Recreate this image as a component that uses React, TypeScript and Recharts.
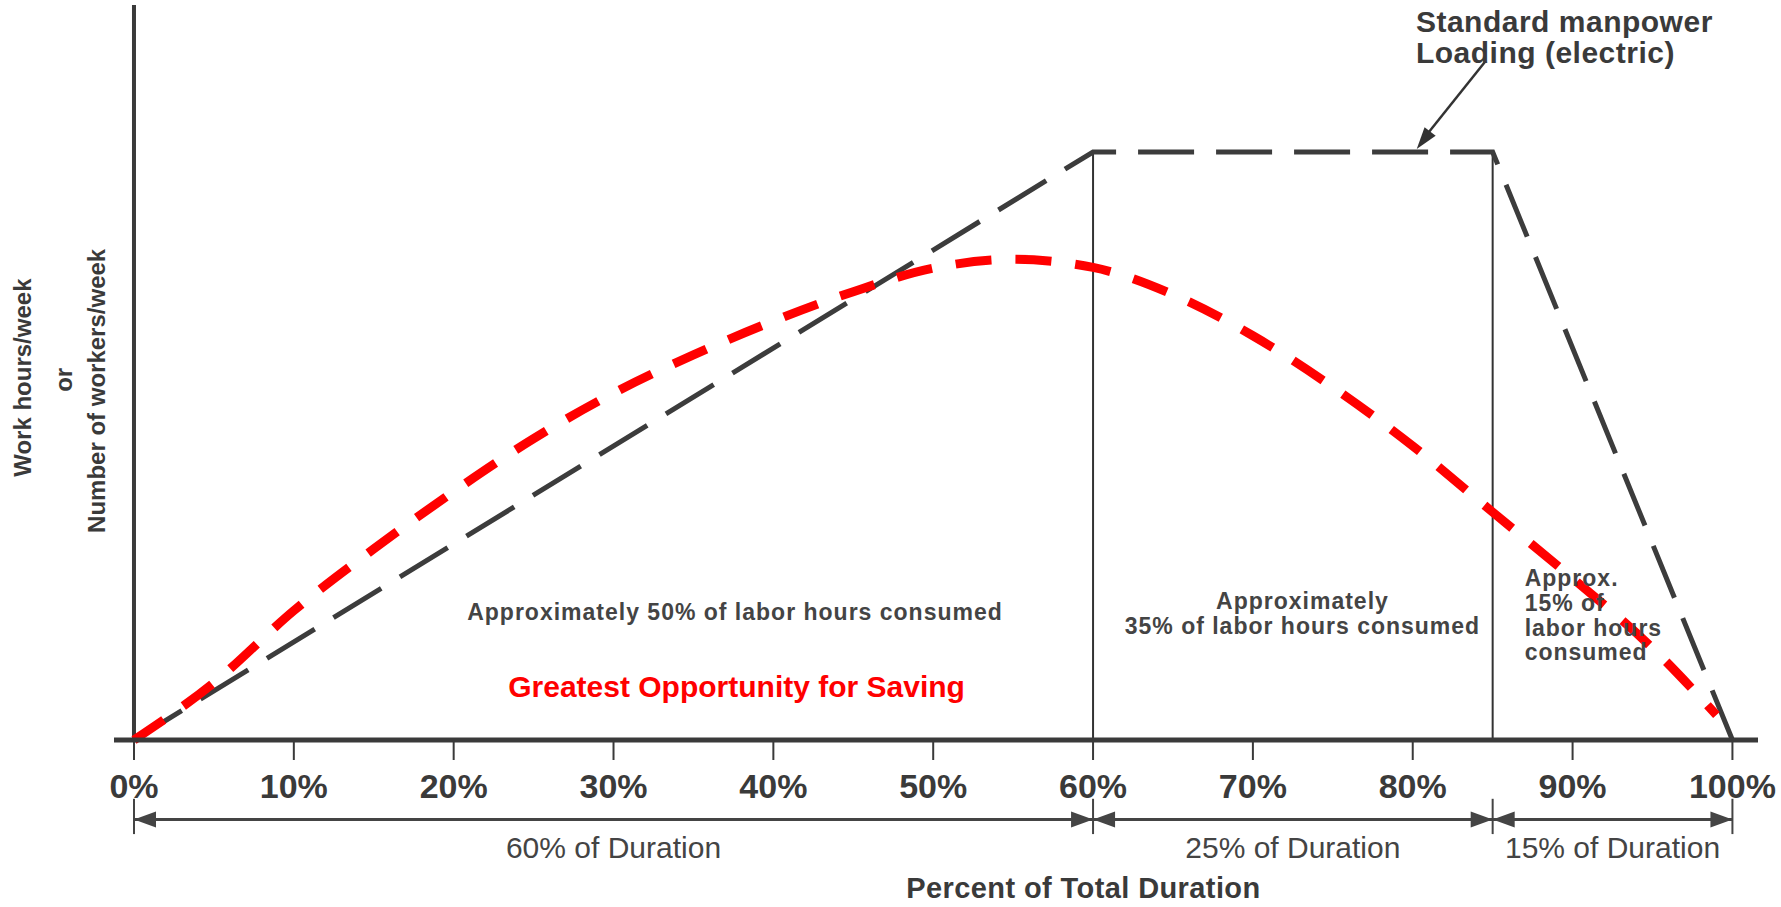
import React from "react";
import { LineChart, Line, XAxis, YAxis, ReferenceLine, ReferenceDot } from "recharts";

const percentTicks = [0, 10, 20, 30, 40, 50, 60, 70, 80, 90, 100];

// standard manpower loading (electric), black dashed
const standardPct = [0, 60, 85, 100];
const standardLoad = [0, 80, 80, 0];

// improved loading curve, red dashed
const savingPct = [0, 5, 10, 15, 20, 25, 30, 35, 40, 45, 50, 55, 60, 65, 70, 75, 80, 85, 90, 95, 99];
const savingLoad = [0, 7.8, 17.6, 26, 33.8, 41, 47.2, 52.4, 57, 61, 64.2, 65.4, 64.3, 60.6, 55, 48, 40, 31, 22, 12.5, 3.4];

const phaseBounds = [0, 60, 85, 100];
const phaseLabels = ["60% of Duration", "25% of Duration", "15% of Duration"];

const standardData = standardPct.map((x, i) => ({ x, v: standardLoad[i] }));
const savingData = savingPct.map((x, i) => ({ x, v: savingLoad[i] }));

const FONT = '"Liberation Sans", Arial, Helvetica, sans-serif';
const INK = "#3a3a3a";
const ARROW_Y = -10.8;

type Note = {
  x: number;
  y: number;
  text: string;
  size: number;
  bold?: boolean;
  color?: string;
  anchor?: "start" | "middle" | "end";
  spacing?: number;
  rotate?: boolean;
};

const notes: Note[] = [
  { x: 80.2, y: 97.7, text: "Standard manpower", size: 30, bold: true, anchor: "start", spacing: 0.5 },
  { x: 80.2, y: 93.6, text: "Loading (electric)", size: 30, bold: true, anchor: "start", spacing: 0.5 },
  { x: 37.6, y: 17.4, text: "Approximately 50% of labor hours consumed", size: 23, bold: true, spacing: 1, color: "#444" },
  { x: 37.7, y: 7.3, text: "Greatest Opportunity for Saving", size: 30, bold: true, color: "#ff0000" },
  { x: 73.1, y: 18.9, text: "Approximately", size: 23, bold: true, spacing: 1, color: "#444" },
  { x: 73.1, y: 15.5, text: "35% of labor hours consumed", size: 23, bold: true, spacing: 1, color: "#444" },
  { x: 87.0, y: 22.0, text: "Approx.", size: 23, bold: true, anchor: "start", spacing: 1, color: "#444" },
  { x: 87.0, y: 18.6, text: "15% of", size: 23, bold: true, anchor: "start", spacing: 1, color: "#444" },
  { x: 87.0, y: 15.2, text: "labor hours", size: 23, bold: true, anchor: "start", spacing: 1, color: "#444" },
  { x: 87.0, y: 12.0, text: "consumed", size: 23, bold: true, anchor: "start", spacing: 1, color: "#444" },
  { x: -6.95, y: 49.3, text: "Work hours/week", size: 24, bold: true, rotate: true },
  { x: -4.44, y: 49.0, text: "or", size: 24, bold: true, rotate: true },
  { x: -2.32, y: 47.5, text: "Number of workers/week", size: 24, bold: true, rotate: true },
  { x: 59.4, y: -20.2, text: "Percent of Total Duration", size: 29, bold: true, spacing: 0.4 },
];

const noteShape = (n: Note) => (p: any) => (
  <text
    x={p.cx}
    y={p.cy}
    textAnchor={n.anchor ?? "middle"}
    dominantBaseline="central"
    fontFamily={FONT}
    fontSize={n.size}
    fontWeight={n.bold ? 700 : 400}
    letterSpacing={n.spacing ?? 0}
    fill={n.color ?? INK}
    transform={n.rotate ? `rotate(-90 ${p.cx} ${p.cy})` : undefined}
  >
    {n.text}
  </text>
);

const arrowHead = (angle: number, len = 22, half = 8, color = "#444") => (p: any) => (
  <polygon
    points={`0,0 ${-len},${-half} ${-len},${half}`}
    fill={color}
    transform={`translate(${p.cx},${p.cy}) rotate(${angle})`}
  />
);

const XTick = (props: any) => {
  const { x, y, payload } = props;
  return (
    <text x={x} y={y} dy="0.71em" textAnchor="middle" fontFamily={FONT} fontSize={34} fontWeight={700} fill={INK}>
      {`${payload.value}%`}
    </text>
  );
};

export default function App() {
  const phaseParts: React.ReactNode[] = [];
  phaseBounds.forEach((b, i) => {
    phaseParts.push(
      <ReferenceLine
        key={`bar-${i}`}
        segment={[{ x: b, y: -8 }, { x: b, y: -12.8 }]}
        stroke="#444"
        strokeWidth={2}
        ifOverflow="visible"
      />
    );
  });
  phaseLabels.forEach((label, i) => {
    const a = phaseBounds[i];
    const b = phaseBounds[i + 1];
    phaseParts.push(
      <ReferenceLine
        key={`span-${i}`}
        segment={[{ x: a, y: ARROW_Y }, { x: b, y: ARROW_Y }]}
        stroke="#444"
        strokeWidth={3}
        ifOverflow="visible"
      />,
      <ReferenceDot key={`ha-${i}`} x={a} y={ARROW_Y} r={0} ifOverflow="visible" shape={arrowHead(180)} />,
      <ReferenceDot key={`hb-${i}`} x={b} y={ARROW_Y} r={0} ifOverflow="visible" shape={arrowHead(0)} />,
      <ReferenceDot
        key={`pl-${i}`}
        x={(a + b) / 2}
        y={-14.6}
        r={0}
        ifOverflow="visible"
        shape={noteShape({ x: 0, y: 0, text: label, size: 30, color: "#444" })}
      />
    );
  });

  return (
    <div style={{ position: "absolute", left: 0, top: 0, width: 1781, height: 907, background: "#fff" }}>
      <LineChart width={1781} height={907} margin={{ top: 5, right: 23, left: 114, bottom: 0 }}>
        <XAxis
          type="number"
          dataKey="x"
          domain={[-1.25, 101.6]}
          ticks={percentTicks}
          interval={0}
          height={167}
          axisLine={{ stroke: INK, strokeWidth: 5 }}
          tickLine={{ stroke: INK, strokeWidth: 2 }}
          tickSize={20}
          tickMargin={14}
          tick={<XTick />}
        />
        <YAxis type="number" domain={[0, 100]} hide />

        <ReferenceLine segment={[{ x: 0, y: 0 }, { x: 0, y: 100 }]} stroke={INK} strokeWidth={4} ifOverflow="visible" />
        <ReferenceLine segment={[{ x: 60, y: 0 }, { x: 60, y: 80 }]} stroke="#333" strokeWidth={2} />
        <ReferenceLine segment={[{ x: 85, y: 0 }, { x: 85, y: 80 }]} stroke="#333" strokeWidth={2} />

        {notes.map((n, i) => (
          <ReferenceDot key={`n-${i}`} x={n.x} y={n.y} r={0} ifOverflow="visible" shape={noteShape(n)} />
        ))}

        <ReferenceLine
          segment={[{ x: 84.5, y: 92.2 }, { x: 80.6, y: 81.6 }]}
          stroke="#333"
          strokeWidth={2.5}
          ifOverflow="visible"
        />
        <ReferenceDot x={80.25} y={80.4} r={0} ifOverflow="visible" shape={arrowHead(127.5, 22, 7, "#333")} />

        {phaseParts}

        <Line
          data={standardData}
          dataKey="v"
          type="linear"
          stroke="#3c3c3c"
          strokeWidth={5}
          strokeDasharray="56 22"
          dot={false}
          activeDot={false}
          isAnimationActive={false}
        />
        <Line
          data={savingData}
          dataKey="v"
          type="monotone"
          stroke="#ff0000"
          strokeWidth={9}
          strokeDasharray="36 24"
          dot={false}
          activeDot={false}
          isAnimationActive={false}
        />
      </LineChart>
    </div>
  );
}
